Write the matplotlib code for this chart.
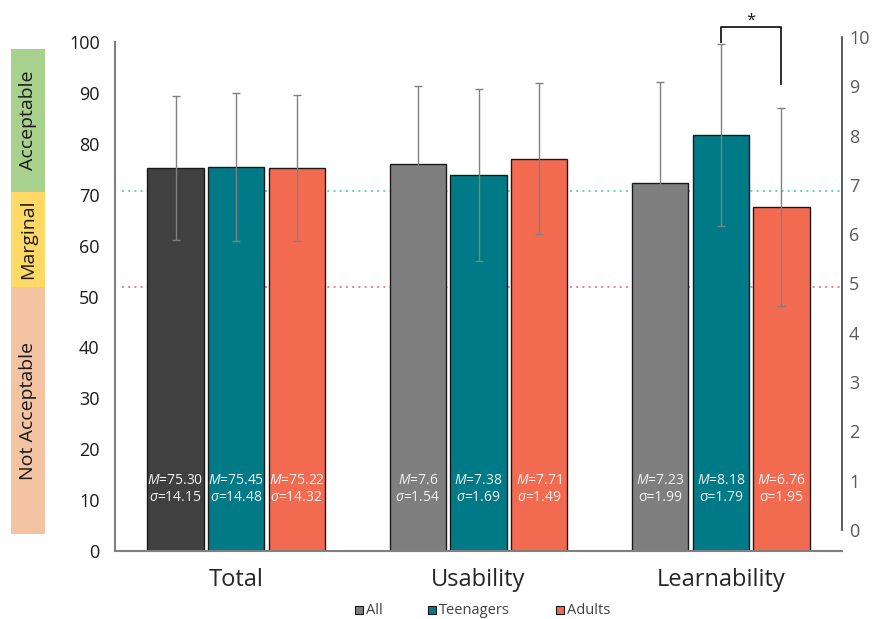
import matplotlib
matplotlib.use("Agg")
import matplotlib.pyplot as plt
from matplotlib.patches import Rectangle
import numpy as np

plt.rcParams['font.family'] = ['Open Sans', 'DejaVu Sans']
plt.rcParams['mathtext.fontset'] = 'custom'
plt.rcParams['mathtext.it'] = 'Open Sans:italic'
plt.rcParams['mathtext.rm'] = 'Open Sans'

# Data
categories = ["Total", "Usability", "Learnability"]
groups = ["All", "Teenagers", "Adults"]
# Total is on a 0-100 scale, the subscales on 0-10
means = {
    "All":       [75.30, 7.6, 7.23],
    "Teenagers": [75.45, 7.38, 8.18],
    "Adults":    [75.22, 7.71, 6.76],
}
sds = {
    "All":       [14.15, 1.54, 1.99],
    "Teenagers": [14.48, 1.69, 1.79],
    "Adults":    [14.32, 1.49, 1.95],
}
mean_labels = {
    "All":       ["75.30", "7.6", "7.23"],
    "Teenagers": ["75.45", "7.38", "8.18"],
    "Adults":    ["75.22", "7.71", "6.76"],
}
sd_labels = {
    "All":       ["14.15", "1.54", "1.99"],
    "Teenagers": ["14.48", "1.69", "1.79"],
    "Adults":    ["14.32", "1.49", "1.95"],
}
scale = [1, 10, 10]
italic_sigma = [True, True, False]
acceptable_cut = 70.7
marginal_cut = 51.9

colors = {
    "All": ["#404040", "#7F7F7F", "#7F7F7F"],
    "Teenagers": ["#007A87"] * 3,
    "Adults": ["#F26B50"] * 3,
}
legend_colors = {"All": "#7F7F7F", "Teenagers": "#007A87", "Adults": "#F26B50"}

W, H = 873, 619
fig = plt.figure(figsize=(W / 100, H / 100), dpi=100)
ax = fig.add_axes([115 / W, 1 - 551 / H, (842 - 115) / W, (551 - 42) / H])

x = np.arange(len(categories))
offsets = [-0.25, 0.0, 0.25]
bw = 0.232

for gi, g in enumerate(groups):
    for ci in range(len(categories)):
        v = means[g][ci] * scale[ci]
        e = sds[g][ci] * scale[ci]
        xc = x[ci] + offsets[gi]
        ax.bar(xc, v, width=bw, color=colors[g][ci], edgecolor="#1a1a1a",
               linewidth=1.0, zorder=2)
        ax.errorbar(xc, v, yerr=e, fmt="none", ecolor="#808080",
                    elinewidth=1.0, capsize=3, capthick=1.0, zorder=3)
        sig = r"$\mathit{\sigma}$" if italic_sigma[ci] else "σ"
        ax.text(xc, 13.8, r"$\mathit{M}$=" + mean_labels[g][ci],
                ha="center", va="center", fontsize=10, color="#F2F2F2", zorder=4)
        ax.text(xc, 10.5, sig + "=" + sd_labels[g][ci],
                ha="center", va="center", fontsize=10, color="#F2F2F2", zorder=4)

# Threshold lines
ax.plot([-0.47, 2.5], [acceptable_cut] * 2, linestyle=(0, (1, 2.2)),
        color="#5ED9A0", linewidth=1.4, zorder=1)
ax.plot([-0.47, 2.5], [marginal_cut] * 2, linestyle=(0, (1, 2.2)),
        color="#F08080", linewidth=1.4, zorder=1)

ax.set_xlim(-0.5, 2.5)
ax.set_ylim(0, 100)
ax.set_yticks(np.arange(0, 101, 10))
ax.tick_params(axis="y", length=0, labelsize=13, labelcolor="#1a1a1a", pad=11)
ax.set_xticks(x)
ax.set_xticklabels(categories, fontsize=17, color="#262626")
ax.tick_params(axis="x", length=0, pad=12)
for s in ["top", "right"]:
    ax.spines[s].set_visible(False)
ax.spines["left"].set_color("#808080")
ax.spines["left"].set_linewidth(1.5)
ax.spines["bottom"].set_color("#808080")
ax.spines["bottom"].set_linewidth(1.5)

# Significance bracket between teenagers and adults for Learnability
x1 = x[2] + offsets[1]
x2 = x[2] + offsets[2]
ax.plot([x1, x1, x2, x2], [100, 103.0, 103.0, 91.8], color="#1a1a1a",
        linewidth=1.3, clip_on=False, zorder=5)
ax.text((x1 + x2) / 2, 102.6, "*", ha="center", va="bottom", fontsize=12,
        color="#1a1a1a")

# Secondary scale for the 0-10 subscales
ax2 = fig.add_axes([842 / W, 1 - 530 / H, 0.0001, (530 - 37) / H])
ax2.set_ylim(0, 10)
ax2.set_yticks(np.arange(0, 11, 1))
ax2.set_xticks([])
for s in ["top", "right", "bottom"]:
    ax2.spines[s].set_visible(False)
ax2.spines["left"].set_color("#404040")
ax2.spines["left"].set_linewidth(1.2)
ax2.yaxis.tick_right()
ax2.tick_params(axis="y", length=0, labelsize=13, labelcolor="#595959", pad=5)
ax2.patch.set_visible(False)

# Acceptability bands
bands = [
    (49, 192, "#A9D18E", "Acceptable"),
    (192, 287, "#FFD966", "Marginal"),
    (287, 534, "#F4C3A1", "Not Acceptable"),
]
for top, bot, col, lab in bands:
    fig.patches.append(Rectangle((11 / W, 1 - bot / H), 34 / W, (bot - top) / H,
                                 transform=fig.transFigure, facecolor=col,
                                 edgecolor="none"))
    fig.text(28 / W, 1 - (top + bot) / 2 / H, lab, rotation=90, ha="center",
             va="center", fontsize=14, color="#1a1a1a")

# Legend
leg_items = [("All", 355), ("Teenagers", 428), ("Adults", 556)]
for g, px in leg_items:
    fig.patches.append(Rectangle((px / W, 1 - 614 / H), 8 / W, 8 / H,
                                 transform=fig.transFigure,
                                 facecolor=legend_colors[g], edgecolor="#1a1a1a",
                                 linewidth=0.8))
    fig.text((px + 11) / W, 1 - 610 / H, g, ha="left", va="center",
             fontsize=10.5, color="#404040")

fig.savefig("out.png", dpi=100)
